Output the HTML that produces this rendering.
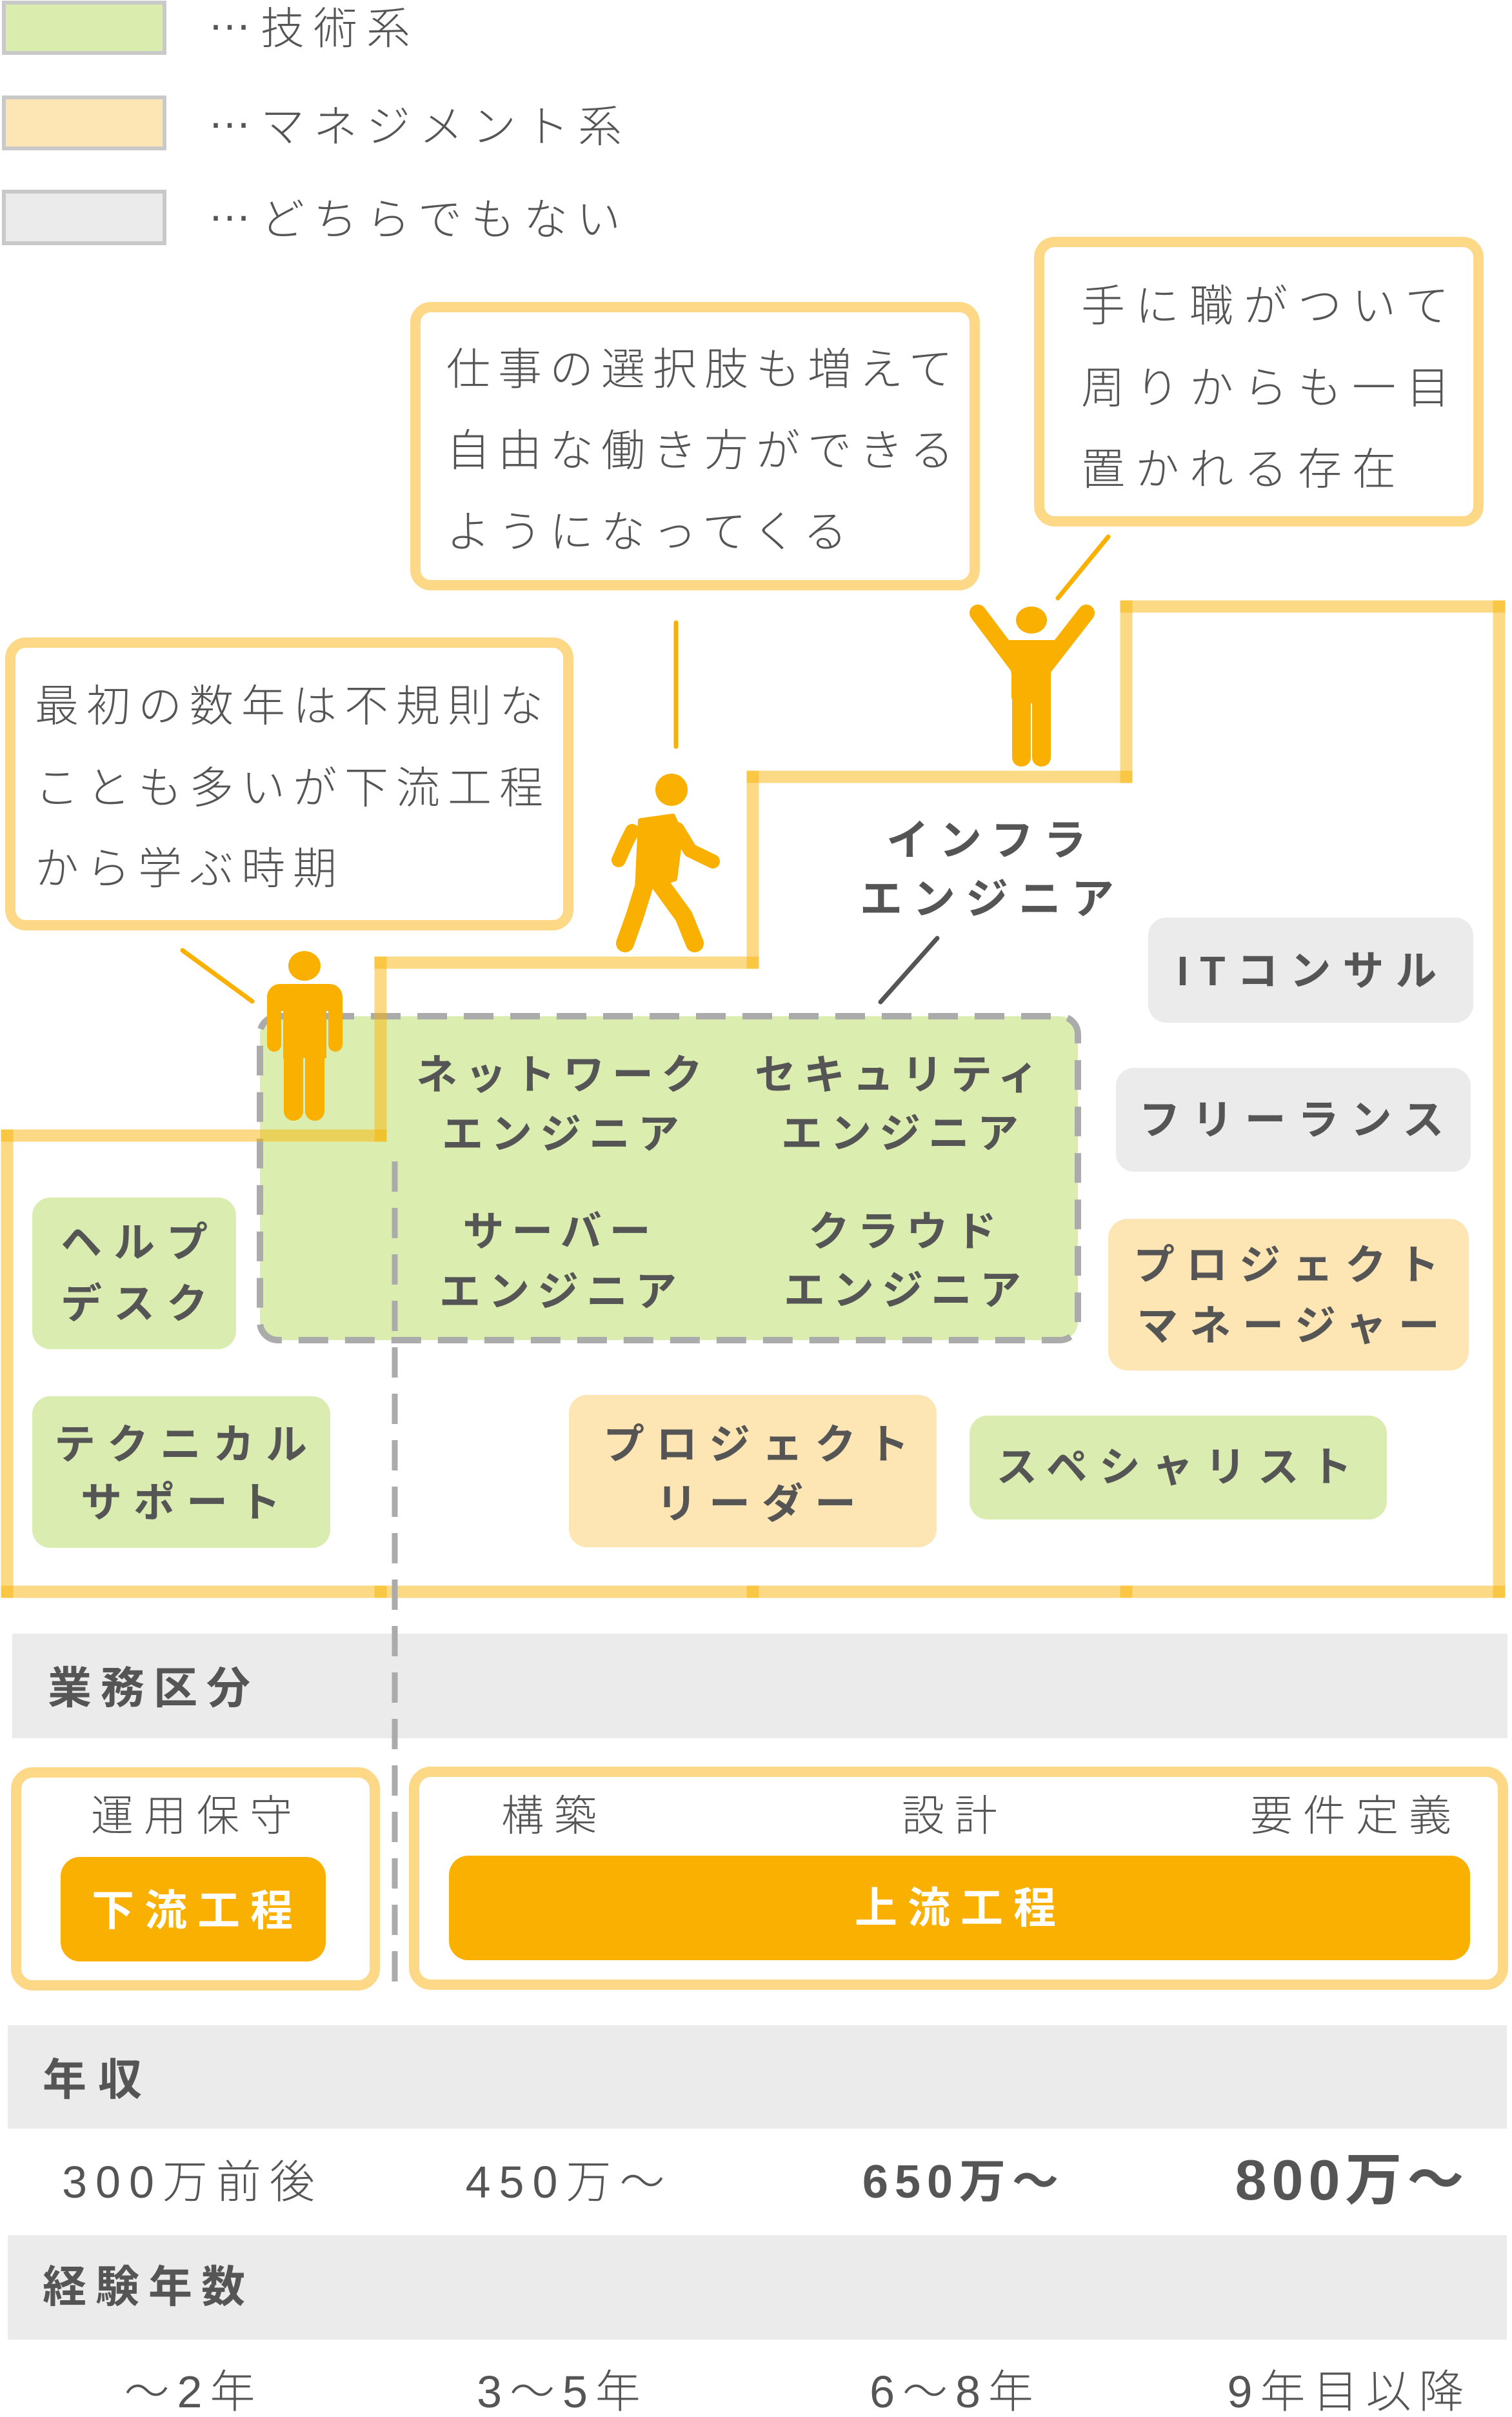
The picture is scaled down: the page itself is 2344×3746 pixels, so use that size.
<!DOCTYPE html>
<html><head><meta charset="utf-8">
<style>
html,body{margin:0;padding:0;background:#fff;}
body{width:2344px;height:3737px;position:relative;overflow:hidden;font-family:"Liberation Sans","Noto Sans CJK JP",sans-serif;color:#555;}
svg{position:absolute;left:0;top:0;}
.t{position:absolute;white-space:nowrap;line-height:1;margin-top:6px;}
.c{transform:translateX(-50%);}
.b{font-weight:700;}
.lt{font-weight:300;}
.dots{position:relative;top:-0.32em;}
</style></head><body>
<svg width="2344" height="3737" viewBox="0 0 2344 3737">
<!-- legend -->
<rect x="6" y="4" width="249" height="78" fill="#daedaf" stroke="#c9c9c9" stroke-width="6"/>
<rect x="6" y="151" width="249" height="79" fill="#fde6b3" stroke="#c9c9c9" stroke-width="6"/>
<rect x="6" y="297" width="249" height="80" fill="#ebebeb" stroke="#c9c9c9" stroke-width="6"/>
<!-- callouts -->
<g fill="#fff" stroke="#fdd886" stroke-width="16">
<rect x="16" y="996" width="865" height="438" rx="24"/>
<rect x="644" y="476" width="867" height="431" rx="24"/>
<rect x="1611" y="375" width="681" height="433" rx="24"/>
</g>
<g stroke="#f9b000" stroke-width="7" stroke-linecap="round">
<line x1="283" y1="1473" x2="391" y2="1552"/>
<line x1="1048" y1="965" x2="1048" y2="1157"/>
<line x1="1718" y1="832" x2="1640" y2="927"/>
</g>
<line x1="1453" y1="1454" x2="1365" y2="1553" stroke="#555" stroke-width="7" stroke-linecap="round"/>
<!-- green dashed group -->
<rect x="403" y="1575" width="1268" height="502" rx="28" fill="#dcedb0" stroke="#ababab" stroke-width="10" stroke-dasharray="46 26"/>
<!-- label boxes -->
<rect x="1780" y="1422" width="504" height="163" rx="28" fill="#ebebeb"/>
<rect x="1730" y="1655" width="550" height="161" rx="28" fill="#ebebeb"/>
<rect x="1718" y="1889" width="559" height="235" rx="30" fill="#fde6b3"/>
<rect x="1503" y="2194" width="647" height="161" rx="28" fill="#dbecb0"/>
<rect x="50" y="1856" width="316" height="235" rx="28" fill="#dbecb0"/>
<rect x="50" y="2164" width="462" height="235" rx="28" fill="#dbecb0"/>
<rect x="882" y="2162" width="570" height="236" rx="28" fill="#fde6b3"/>
<!-- stairs -->
<g stroke="rgba(249,177,0,0.48)" stroke-width="19" stroke-linecap="square">
<line x1="11" y1="1760" x2="11" y2="2467"/>
<line x1="11" y1="2467" x2="590" y2="2467"/>
<line x1="590" y1="2467" x2="1167" y2="2467"/>
<line x1="1167" y1="2467" x2="1746" y2="2467"/>
<line x1="1746" y1="2467" x2="2324" y2="2467"/>
<line x1="2324" y1="2467" x2="2324" y2="940"/>
<line x1="2324" y1="940" x2="1746" y2="940"/>
<line x1="1746" y1="940" x2="1746" y2="1204"/>
<line x1="1746" y1="1204" x2="1167" y2="1204"/>
<line x1="1167" y1="1204" x2="1167" y2="1492"/>
<line x1="1167" y1="1492" x2="590" y2="1492"/>
<line x1="590" y1="1492" x2="590" y2="1760"/>
<line x1="590" y1="1760" x2="11" y2="1760"/>
</g>
<!-- bands -->
<rect x="19" y="2532" width="2318" height="162" fill="#ebebeb"/>
<rect x="12" y="3139" width="2324" height="160" fill="#ebebeb"/>
<rect x="12" y="3464" width="2324" height="162" fill="#ebebeb"/>
<!-- process boxes -->
<g fill="#fff" stroke="#fdd886" stroke-width="16">
<rect x="25" y="2747" width="556" height="330" rx="26"/>
<rect x="642" y="2746" width="1688" height="330" rx="26"/>
</g>
<rect x="94" y="2878" width="411" height="162" rx="30" fill="#f9b000"/>
<rect x="696" y="2876" width="1583" height="162" rx="30" fill="#f9b000"/>
<!-- dashed vertical -->
<line x1="612" y1="1800" x2="612" y2="3071" stroke="#ababab" stroke-width="9" stroke-dasharray="47 25"/>
<!-- standing figure -->
<g fill="#f9b000">
<ellipse cx="472" cy="1497" rx="25" ry="23"/>
<rect x="414" y="1525" width="117" height="42" rx="20"/>
<rect x="414" y="1540" width="22" height="90" rx="11"/>
<rect x="509" y="1540" width="22" height="90" rx="11"/>
<rect x="439" y="1540" width="67" height="100"/>
<rect x="440" y="1600" width="30" height="137" rx="15"/>
<rect x="473" y="1600" width="30" height="137" rx="15"/>
</g>
<!-- walking figure -->
<g fill="#f9b000" stroke="#f9b000" stroke-linecap="round" stroke-linejoin="round">
<circle cx="1041" cy="1224" r="25" stroke="none"/>
<path d="M993 1272 L1043 1265 L1055 1292 L1046 1362 L988 1380 Z" stroke-width="8"/>
<polyline points="980,1288 970,1308 959,1333" fill="none" stroke-width="22"/>
<polyline points="1050,1285 1070,1318 1105,1335" fill="none" stroke-width="22"/>
<polyline points="998,1375 984,1420 969,1462" fill="none" stroke-width="28"/>
<polyline points="1025,1372 1060,1420 1077,1462" fill="none" stroke-width="28"/>
</g>
<!-- raised-arms figure -->
<g fill="#f9b000">
<ellipse cx="1599" cy="961" rx="24" ry="21"/>
<line x1="1516" y1="950" x2="1580" y2="1035" stroke="#f9b000" stroke-width="26" stroke-linecap="round"/>
<line x1="1684" y1="950" x2="1618" y2="1035" stroke="#f9b000" stroke-width="26" stroke-linecap="round"/>
<polygon points="1558,992 1640,992 1629,1045 1568,1045"/>
<rect x="1568" y="995" width="61" height="95" rx="10"/>
<rect x="1569" y="1060" width="29" height="128" rx="14"/>
<rect x="1600" y="1060" width="29" height="128" rx="14"/>
</g>
</svg>

<!-- legend text -->
<div class="t lt" style="left:322px;top:5px;font-size:68px;letter-spacing:14px;"><span class="dots">…</span>技術系</div>
<div class="t lt" style="left:322px;top:157px;font-size:68px;letter-spacing:14px;"><span class="dots">…</span>マネジメント系</div>
<div class="t lt" style="left:322px;top:301px;font-size:68px;letter-spacing:14px;"><span class="dots">…</span>どちらでもない</div>

<!-- callout texts -->
<div class="t lt" style="left:54px;top:1055px;font-size:68px;letter-spacing:12px;">最初の数年は不規則な</div>
<div class="t lt" style="left:54px;top:1182px;font-size:68px;letter-spacing:12px;">ことも多いが下流工程</div>
<div class="t lt" style="left:54px;top:1307px;font-size:68px;letter-spacing:12px;">から学ぶ時期</div>

<div class="t lt" style="left:692px;top:533px;font-size:68px;letter-spacing:12px;">仕事の選択肢も増えて</div>
<div class="t lt" style="left:692px;top:659px;font-size:68px;letter-spacing:12px;">自由な働き方ができる</div>
<div class="t lt" style="left:692px;top:785px;font-size:68px;letter-spacing:12px;">ようになってくる</div>

<div class="t lt" style="left:1676px;top:435px;font-size:68px;letter-spacing:16px;">手に職がついて</div>
<div class="t lt" style="left:1676px;top:562px;font-size:68px;letter-spacing:16px;">周りからも一目</div>
<div class="t lt" style="left:1676px;top:688px;font-size:68px;letter-spacing:16px;">置かれる存在</div>

<!-- infra label -->
<div class="t c b" style="left:1529px;top:1263px;font-size:66px;letter-spacing:16px;padding-left:16px;">インフラ</div>
<div class="t c b" style="left:1530px;top:1354px;font-size:66px;letter-spacing:16px;padding-left:16px;">エンジニア</div>

<!-- green box labels -->
<div class="t c b" style="left:867px;top:1628px;font-size:64px;letter-spacing:12px;padding-left:12px;">ネットワーク</div>
<div class="t c b" style="left:869px;top:1720px;font-size:64px;letter-spacing:12px;padding-left:12px;">エンジニア</div>
<div class="t c b" style="left:1390px;top:1628px;font-size:64px;letter-spacing:12px;padding-left:12px;">セキュリティ</div>
<div class="t c b" style="left:1395px;top:1719px;font-size:64px;letter-spacing:12px;padding-left:12px;">エンジニア</div>
<div class="t c b" style="left:863px;top:1871px;font-size:64px;letter-spacing:12px;padding-left:12px;">サーバー</div>
<div class="t c b" style="left:865px;top:1964px;font-size:64px;letter-spacing:12px;padding-left:12px;">エンジニア</div>
<div class="t c b" style="left:1399px;top:1871px;font-size:64px;letter-spacing:12px;padding-left:12px;">クラウド</div>
<div class="t c b" style="left:1399px;top:1962px;font-size:64px;letter-spacing:12px;padding-left:12px;">エンジニア</div>

<!-- left labels -->
<div class="t c b" style="left:208px;top:1888px;font-size:64px;letter-spacing:18px;padding-left:18px;">ヘルプ</div>
<div class="t c b" style="left:208px;top:1983px;font-size:64px;letter-spacing:18px;padding-left:18px;">デスク</div>
<div class="t c b" style="left:280px;top:2201px;font-size:64px;letter-spacing:18px;padding-left:18px;">テクニカル</div>
<div class="t c b" style="left:280px;top:2291px;font-size:64px;letter-spacing:18px;padding-left:18px;">サポート</div>
<div class="t c b" style="left:1172px;top:2201px;font-size:64px;letter-spacing:18px;padding-left:18px;">プロジェクト</div>
<div class="t c b" style="left:1172px;top:2293px;font-size:64px;letter-spacing:18px;padding-left:18px;">リーダー</div>

<!-- right labels -->
<div class="t c b" style="left:2026px;top:1467px;font-size:64px;letter-spacing:18px;padding-left:18px;">ITコンサル</div>
<div class="t c b" style="left:2002px;top:1698px;font-size:64px;letter-spacing:18px;padding-left:18px;">フリーランス</div>
<div class="t c b" style="left:1994px;top:1923px;font-size:64px;letter-spacing:18px;padding-left:18px;">プロジェクト</div>
<div class="t c b" style="left:1997px;top:2017px;font-size:64px;letter-spacing:18px;padding-left:18px;">マネージャー</div>
<div class="t c b" style="left:1820px;top:2236px;font-size:64px;letter-spacing:18px;padding-left:18px;">スペシャリスト</div>

<!-- band labels -->
<div class="t b" style="left:74px;top:2577px;font-size:68px;letter-spacing:14px;">業務区分</div>
<div class="t b" style="left:66px;top:3184px;font-size:68px;letter-spacing:18px;">年収</div>
<div class="t b" style="left:66px;top:3505px;font-size:68px;letter-spacing:14px;">経験年数</div>

<!-- process texts -->
<div class="t c lt" style="left:297px;top:2775px;font-size:66px;letter-spacing:16px;padding-left:16px;">運用保守</div>
<div class="t c lt" style="left:851px;top:2775px;font-size:66px;letter-spacing:16px;padding-left:16px;">構築</div>
<div class="t c lt" style="left:1472px;top:2775px;font-size:66px;letter-spacing:16px;padding-left:16px;">設計</div>
<div class="t c lt" style="left:2094px;top:2775px;font-size:66px;letter-spacing:16px;padding-left:16px;">要件定義</div>
<div class="t c b" style="left:298px;top:2922px;font-size:66px;letter-spacing:16px;padding-left:16px;color:#fff;">下流工程</div>
<div class="t c b" style="left:1481px;top:2918px;font-size:66px;letter-spacing:16px;padding-left:16px;color:#fff;">上流工程</div>

<!-- salary -->
<div class="t c lt" style="left:292px;top:3341px;font-size:70px;letter-spacing:13px;padding-left:13px;">300万前後</div>
<div class="t c lt" style="left:876px;top:3341px;font-size:70px;letter-spacing:13px;padding-left:13px;">450万～</div>
<div class="t c" style="left:1489px;top:3340px;font-size:72px;letter-spacing:10px;padding-left:10px;font-weight:600;">650万～</div>
<div class="t c b" style="left:2092px;top:3329px;font-size:88px;letter-spacing:8px;padding-left:8px;">800万～</div>

<!-- years -->
<div class="t c lt" style="left:294px;top:3666px;font-size:70px;letter-spacing:12px;padding-left:12px;">～2年</div>
<div class="t c lt" style="left:866px;top:3666px;font-size:70px;letter-spacing:12px;padding-left:12px;">3～5年</div>
<div class="t c lt" style="left:1475px;top:3666px;font-size:70px;letter-spacing:12px;padding-left:12px;">6～8年</div>
<div class="t c lt" style="left:2086px;top:3666px;font-size:70px;letter-spacing:12px;padding-left:12px;">9年目以降</div>
</body></html>
